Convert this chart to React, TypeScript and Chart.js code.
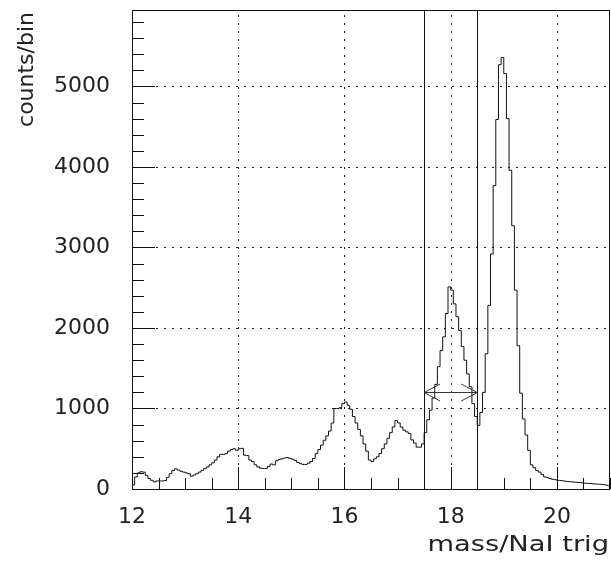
import React, { useEffect, useRef } from "react";
import { Chart, registerables } from "chart.js";

Chart.register(...registerables);

// ---- data ----
const binStart = 12;
const binWidth = 0.05;
const counts = [
  // 12.00 - 12.95
  50, 150, 200, 215, 210, 170, 130, 108, 88, 100,
  100, 100, 105, 145, 190, 230, 250, 235, 220, 210,
  // 13.00 - 13.95
  200, 190, 160, 175, 190, 210, 232, 253, 275, 300,
  325, 360, 400, 430, 430, 440, 470, 490, 500, 480,
  // 14.00 - 14.95
  500, 505, 420, 415, 360, 340, 300, 275, 260, 255,
  255, 280, 310, 300, 350, 365, 375, 385, 390, 380,
  // 15.00 - 15.95
  370, 355, 330, 315, 305, 305, 320, 340, 380, 440,
  490, 545, 605, 660, 720, 820, 1000, 1000, 1010, 1060,
  // 16.00 - 16.95
  1080, 1040, 990, 900, 820, 740, 660, 560, 470, 360,
  340, 375, 400, 440, 500, 560, 630, 700, 770, 850,
  // 17.00 - 17.95
  820, 770, 730, 710, 690, 610, 570, 520, 520, 560,
  700, 860, 980, 1130, 1300, 1520, 1720, 1890, 2180, 2510,
  // 18.00 - 18.95
  2470, 2300, 2140, 1970, 1770, 1600, 1430, 1270, 1060, 900,
  790, 950, 1200, 1680, 2280, 2920, 3770, 4590, 5270, 5360,
  // 19.00 - 19.95
  5160, 4600, 3960, 3270, 2470, 1780, 1190, 870, 670, 480,
  300, 265, 230, 210, 180, 150, 140, 130, 120, 115,
  // 20.00 - 20.95
  108, 105, 100, 95, 92, 90, 85, 83, 80, 78,
  72, 70, 68, 65, 62, 60, 58, 55, 50, 40,
];
const xTickValues = [12, 14, 16, 18, 20];
const yTickValues = [0, 1000, 2000, 3000, 4000, 5000];
const xMin = 12;
const xMax = 21;
const yMin = 0;
const yMax = 5950;
const xMajorStep = 2;
const xMinorStep = 0.5;
const yMajorStep = 1000;
const yMinorStep = 200;
const windowLow = 17.5;
const windowHigh = 18.5;
const arrowLevel = 1200;
const xTitle = "mass/NaI trig";
const yTitle = "counts/bin";

const FONT = "'DejaVu Sans', sans-serif";

function buildPoints() {
  const pts: { x: number; y: number }[] = [{ x: binStart, y: 0 }];
  counts.forEach((c, i) => {
    pts.push({ x: Math.round((binStart + i * binWidth) * 1000) / 1000, y: c });
  });
  pts.push({ x: Math.round((binStart + counts.length * binWidth) * 1000) / 1000, y: counts[counts.length - 1] });
  return pts;
}

const decorPlugin = {
  id: "rootDecor",
  beforeDatasetsDraw(chart: any) {
    const { ctx, chartArea: a, scales } = chart;
    const xs = scales.x;
    const ys = scales.y;
    ctx.save();
    ctx.strokeStyle = "#222";
    ctx.lineWidth = 1;
    ctx.setLineDash([2, 6]);
    xTickValues.forEach((v) => {
      if (v <= xMin || v >= xMax) return;
      const px = Math.round(xs.getPixelForValue(v)) + 0.5;
      ctx.beginPath();
      ctx.moveTo(px, a.bottom);
      ctx.lineTo(px, a.top);
      ctx.stroke();
    });
    yTickValues.forEach((v) => {
      if (v <= yMin || v >= yMax) return;
      const py = Math.round(ys.getPixelForValue(v)) + 0.5;
      ctx.beginPath();
      ctx.moveTo(a.left, py);
      ctx.lineTo(a.right, py);
      ctx.stroke();
    });
    ctx.restore();
  },
  afterDatasetsDraw(chart: any) {
    const { ctx, chartArea: a, scales } = chart;
    const xs = scales.x;
    const ys = scales.y;
    ctx.save();
    ctx.setLineDash([]);
    ctx.strokeStyle = "#111";
    ctx.lineWidth = 1;
    // ticks on y axis
    for (let v = yMin; v < yMax; v += yMinorStep) {
      const py = Math.round(ys.getPixelForValue(v)) + 0.5;
      const major = Math.abs(v % yMajorStep) < 1e-6;
      ctx.beginPath();
      ctx.moveTo(a.left, py);
      ctx.lineTo(a.left + (major ? 23 : 12), py);
      ctx.stroke();
    }
    // ticks on x axis
    for (let v = xMin; v <= xMax + 1e-6; v += xMinorStep) {
      const px = Math.round(xs.getPixelForValue(v)) + 0.5;
      const major = Math.abs((v - xMin) % xMajorStep) < 1e-6;
      ctx.beginPath();
      ctx.moveTo(px, a.bottom);
      ctx.lineTo(px, a.bottom - (major ? 22 : 11));
      ctx.stroke();
    }
    // window lines
    [windowLow, windowHigh].forEach((v) => {
      const px = Math.round(xs.getPixelForValue(v)) + 0.5;
      ctx.beginPath();
      ctx.moveTo(px, a.top);
      ctx.lineTo(px, a.bottom);
      ctx.stroke();
    });
    // double arrow
    const x1 = xs.getPixelForValue(windowLow);
    const x2 = xs.getPixelForValue(windowHigh);
    const ay = Math.round(ys.getPixelForValue(arrowLevel)) + 0.5;
    ctx.strokeStyle = "#333";
    ctx.beginPath();
    ctx.moveTo(x1, ay);
    ctx.lineTo(x2, ay);
    ctx.moveTo(x1 + 16, ay - 8.5);
    ctx.lineTo(x1, ay);
    ctx.lineTo(x1 + 16, ay + 8.5);
    ctx.moveTo(x2 - 16, ay - 8.5);
    ctx.lineTo(x2, ay);
    ctx.lineTo(x2 - 16, ay + 8.5);
    ctx.stroke();
    // frame
    ctx.strokeStyle = "#111";
    ctx.strokeRect(Math.round(a.left) + 0.5, Math.round(a.top) + 0.5, Math.round(a.right - a.left) - 1, Math.round(a.bottom - a.top));
    ctx.restore();
  },
  afterDraw(chart: any) {
    const { ctx, chartArea: a } = chart;
    ctx.save();
    ctx.fillStyle = "#222";
    ctx.font = `22px ${FONT}`;
    // x title, right aligned at plot right edge
    ctx.save();
    ctx.translate(a.right - 1, 551);
    ctx.scale(1.24, 1);
    ctx.textAlign = "right";
    ctx.textBaseline = "alphabetic";
    ctx.fillText(xTitle, 0, 0);
    ctx.restore();
    // y title, rotated, ending at plot top
    ctx.save();
    ctx.translate(33, a.top + 2);
    ctx.rotate(-Math.PI / 2);
    ctx.textAlign = "right";
    ctx.textBaseline = "alphabetic";
    ctx.fillText(yTitle, 0, 0);
    ctx.restore();
    ctx.restore();
  },
};

export default function App() {
  const ref = useRef<HTMLCanvasElement | null>(null);
  useEffect(() => {
    if (!ref.current) return;
    const chart = new Chart(ref.current, {
      type: "line",
      data: {
        datasets: [
          {
            data: buildPoints(),
            stepped: "before",
            borderColor: "#111",
            borderWidth: 1,
            pointRadius: 0,
            fill: false,
            tension: 0,
          },
        ],
      },
      options: {
        animation: false,
        responsive: false,
        events: [],
        layout: { padding: { top: 10, right: 1, left: 0, bottom: 0 } },
        plugins: { legend: { display: false }, tooltip: { enabled: false } },
        scales: {
          x: {
            type: "linear",
            min: xMin,
            max: xMax,
            afterBuildTicks: (s: any) => {
              s.ticks = xTickValues.map((v) => ({ value: v }));
            },
            afterFit: (s: any) => {
              s.height = 79;
              s.paddingLeft = 0;
              s.paddingRight = 0;
              s.paddingTop = 0;
              s.paddingBottom = 0;
            },
            grid: { display: false, drawTicks: false },
            border: { display: false },
            ticks: {
              autoSkip: false,
              maxRotation: 0,
              padding: 15,
              color: "#222",
              font: { family: FONT, size: 22 },
              callback: (v: any) => String(v),
            },
          },
          y: {
            type: "linear",
            min: yMin,
            max: yMax,
            afterBuildTicks: (s: any) => {
              s.ticks = yTickValues.map((v) => ({ value: v }));
            },
            afterFit: (s: any) => {
              s.width = 132;
              s.paddingLeft = 0;
              s.paddingRight = 0;
              s.paddingTop = 0;
              s.paddingBottom = 0;
            },
            grid: { display: false, drawTicks: false },
            border: { display: false },
            ticks: {
              autoSkip: false,
              padding: 22,
              color: "#222",
              font: { family: FONT, size: 22 },
              callback: (v: any) => String(v),
            },
          },
        },
      },
      plugins: [decorPlugin],
    });
    return () => chart.destroy();
  }, []);
  return (
    <div style={{ position: "fixed", left: 0, top: 0, width: 611, height: 568, background: "#fff" }}>
      <canvas ref={ref} width={611} height={568} style={{ width: 611, height: 568 }} />
    </div>
  );
}
